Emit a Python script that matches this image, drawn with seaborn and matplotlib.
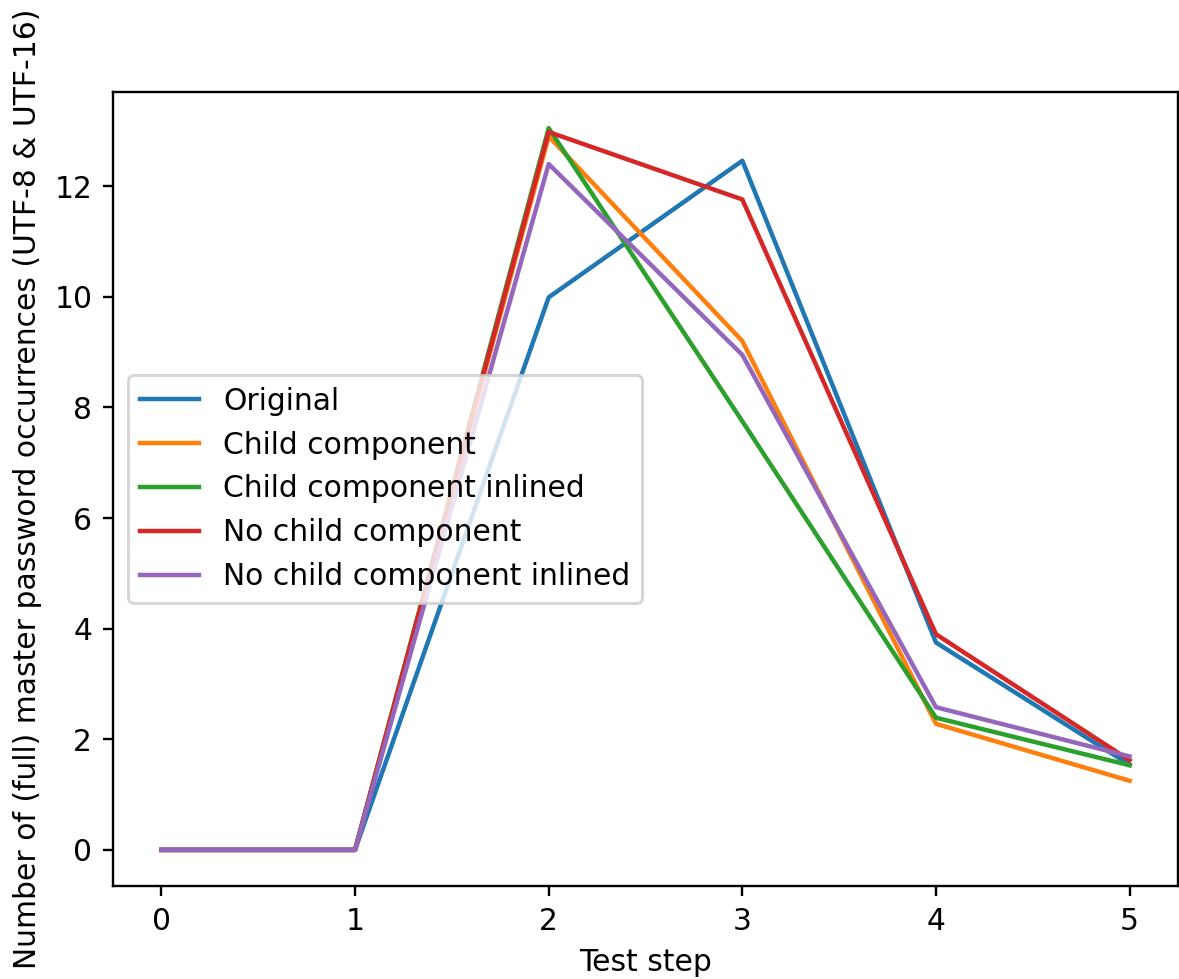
import pandas as pd
import matplotlib
matplotlib.use('Agg')
import matplotlib.pyplot as plt
import seaborn as sns

steps = [0, 1, 2, 3, 4, 5]
original = [0, 0, 9.99, 12.46, 3.75, 1.54]
child = [0, 0, 12.9, 9.2, 2.28, 1.25]
child_inlined = [0, 0, 13.05, 7.75, 2.39, 1.53]
no_child = [0, 0, 12.98, 11.76, 3.9, 1.62]
no_child_inlined = [0, 0, 12.4, 8.95, 2.58, 1.69]

series = {
    'Original': original,
    'Child component': child,
    'Child component inlined': child_inlined,
    'No child component': no_child,
    'No child component inlined': no_child_inlined,
}

df = pd.concat([pd.DataFrame({'step': steps, 'count': v, 'variant': k})
                for k, v in series.items()], ignore_index=True)

dpi = 214
fig = plt.figure(figsize=(1179 / dpi, 979 / dpi), dpi=dpi)
ax = fig.add_axes([113 / 1179, 93 / 979, 1065 / 1179, 794 / 979])
sns.lineplot(data=df, x='step', y='count', hue='variant',
             palette='tab10', linewidth=1.5, ax=ax)
handles, labels = ax.get_legend_handles_labels()
ax.legend(handles, labels, loc='center left')
ax.set_xlabel('Test step')
ax.set_ylabel('Number of (full) master password occurrences (UTF-8 & UTF-16)')
ax.set_xticks(steps)
fig.savefig('out.png', dpi=dpi)
